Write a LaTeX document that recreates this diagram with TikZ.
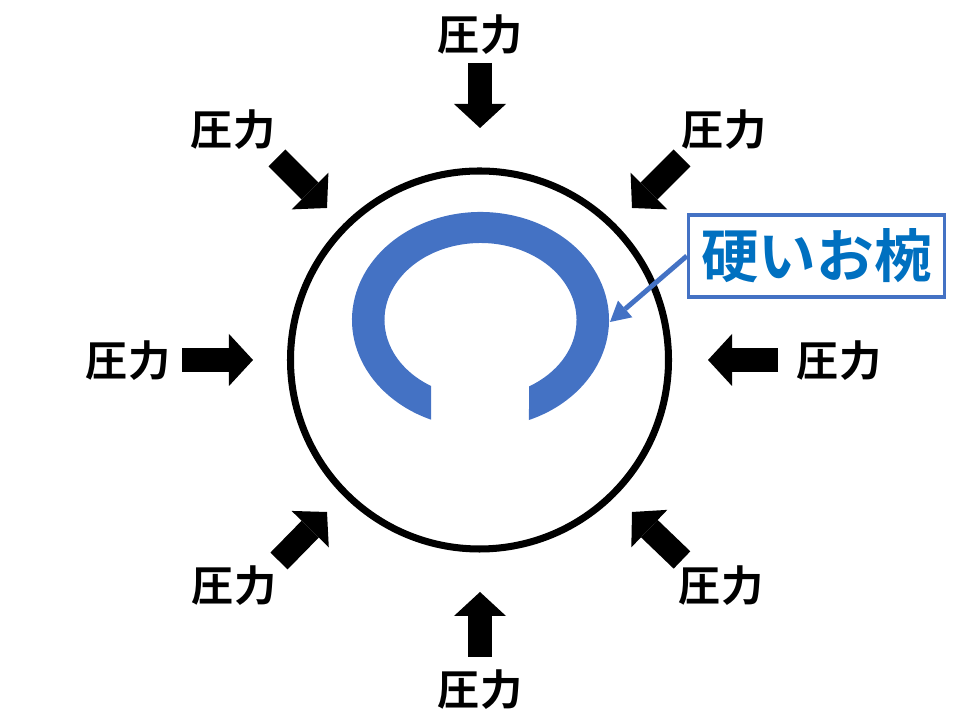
\documentclass[tikz,border=0pt]{standalone}
\usepackage{fontspec}
\setmainfont{Noto Sans CJK JP}[BoldFont={Noto Sans CJK JP Bold}]
\usepackage{tikz}
\usetikzlibrary{calc}
\usetikzlibrary{arrows.meta}
\definecolor{bowlblue}{RGB}{68,114,196}
\definecolor{textblue}{RGB}{0,112,192}

\begin{document}
\begin{tikzpicture}[x=0.025cm, y=0.025cm,
    presslabel/.style={font=\fontsize{30}{32}\selectfont\bfseries, inner sep=0pt},
    pressarrow/.style={line width=0.6cm, -{Triangle[length=0.6cm, width=1.3cm, line width=0pt]}},
    callarrow/.style={draw=bowlblue, line width=3.5pt, -{Triangle[length=0.5cm, width=0.55cm, line width=0pt]}}]
    \useasboundingbox (0,0) rectangle (960,720);

    \coordinate (center) at (479.5, 360);
    \coordinate (bowlc) at (480.5, 400);
    \draw [line width=5pt] (center) circle [radius=189];

    % the bowl
    \fill [bowlblue] ($(bowlc)+(-67.83:128.5 and 108)$) arc [start angle=-67.83, end angle=247.34, x radius=128.5, y radius=108]
        -- ($(bowlc)+(238.96:96 and 77)$) arc [start angle=238.96, end angle=-59.65, x radius=96, y radius=77] -- cycle;
    \coordinate (bowlside) at (610, 398);

    \node [draw=bowlblue, line width=2.4pt, fill=white, minimum width=6.4cm, minimum height=2.05cm, inner sep=0pt, text=textblue, font=\fontsize{41}{44}\selectfont\bfseries] (callout) at (816.5, 464) {硬いお椀};
    \draw [callarrow] (callout.west) -- (bowlside);

    % pressure from all sides
    \node [presslabel] (ptop) at (480, 685) {圧力};
    \node [presslabel] (ptopleft) at (233, 590) {圧力};
    \node [presslabel] (ptopright) at (724, 590) {圧力};
    \node [presslabel] (pleft) at (128, 359) {圧力};
    \node [presslabel] (pright) at (839, 359) {圧力};
    \node [presslabel] (pbotleft) at (234, 134) {圧力};
    \node [presslabel] (pbotright) at (721, 134) {圧力};
    \node [presslabel] (pbot) at (480, 30) {圧力};

    \coordinate (atop) at (480, 657);
    \coordinate (ttop) at (480, 592);
    \coordinate (atopleft) at (277, 562);
    \coordinate (ttopleft) at (327, 512);
    \coordinate (atopright) at (682, 562);
    \coordinate (ttopright) at (632, 512);
    \coordinate (aleft) at (182, 360);
    \coordinate (tleft) at (253, 360);
    \coordinate (aright) at (778, 360);
    \coordinate (tright) at (708, 360);
    \coordinate (abotleft) at (279, 159);
    \coordinate (tbotleft) at (327, 208);
    \coordinate (abotright) at (682, 160);
    \coordinate (tbotright) at (632, 208);
    \coordinate (abot) at (480, 63);
    \coordinate (tbot) at (480, 128);

    \draw [pressarrow] (atop) -- (ttop);
    \draw [pressarrow] (atopleft) -- (ttopleft);
    \draw [pressarrow] (atopright) -- (ttopright);
    \draw [pressarrow] (aleft) -- (tleft);
    \draw [pressarrow] (aright) -- (tright);
    \draw [pressarrow] (abotleft) -- (tbotleft);
    \draw [pressarrow] (abotright) -- (tbotright);
    \draw [pressarrow] (abot) -- (tbot);
\end{tikzpicture}
\end{document}
